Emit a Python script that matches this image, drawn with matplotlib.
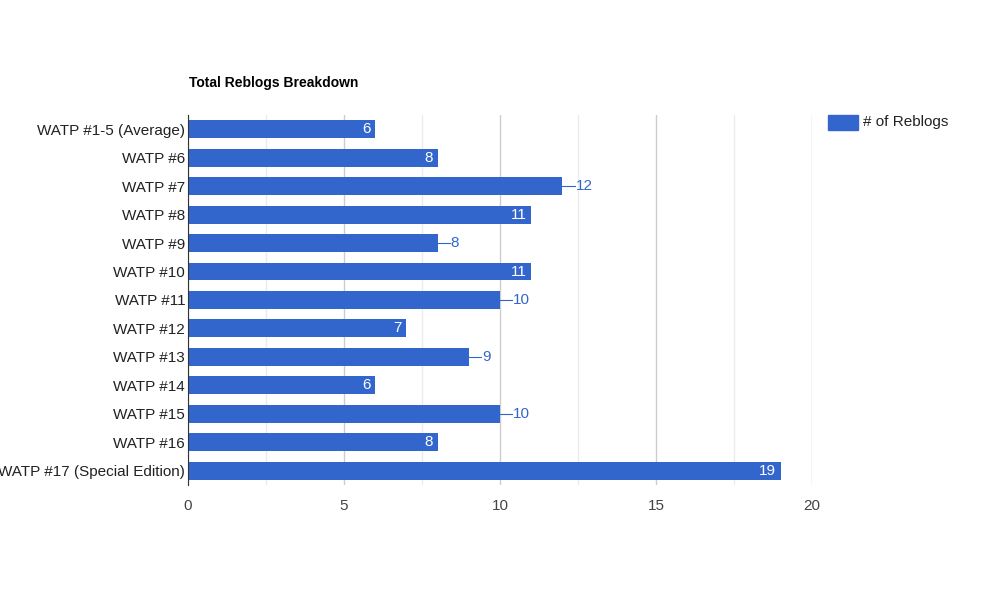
import matplotlib
matplotlib.use('Agg')
import matplotlib.pyplot as plt
from matplotlib.ticker import MultipleLocator

plt.rcParams['font.family'] = 'Liberation Sans'

categories = ['WATP #1-5 (Average)', 'WATP #6', 'WATP #7', 'WATP #8', 'WATP #9',
              'WATP #10', 'WATP #11', 'WATP #12', 'WATP #13', 'WATP #14',
              'WATP #15', 'WATP #16', 'WATP #17 (Special Edition)']
reblogs = [6, 8, 12, 11, 8, 11, 10, 7, 9, 6, 10, 8, 19]
# label drawn outside the bar with a leader line
outside = [False, False, True, False, True, False, True, False, True, False, True, False, False]

BLUE = '#3366cc'

fig = plt.figure(figsize=(10, 6), dpi=100)
ax = fig.add_axes([0.188, 0.1917, 0.624, 0.6167])

ypos = list(range(len(categories)))
ax.barh(ypos, reblogs, height=0.63, color=BLUE, zorder=3)
ax.set_ylim(len(categories) - 0.5, -0.5)
ax.set_xlim(0, 20)
ax.set_yticks(ypos)
ax.set_yticklabels(categories, fontsize=11, color='#222222')
ax.xaxis.set_major_locator(MultipleLocator(5))
ax.xaxis.set_minor_locator(MultipleLocator(2.5))
ax.tick_params(axis='both', which='both', length=0, labelsize=11, colors='#444444')
ax.tick_params(axis='y', colors='#222222', pad=2)
ax.tick_params(axis='x', pad=10)
ax.grid(axis='x', which='major', color='#cccccc', lw=1, zorder=0)
ax.grid(axis='x', which='minor', color='#ebebeb', lw=1, zorder=0)
for s in ['top', 'right', 'bottom']:
    ax.spines[s].set_visible(False)
ax.spines['left'].set_color('#333333')
ax.spines['left'].set_zorder(4)

for y, v, out in zip(ypos, reblogs, outside):
    if out:
        ax.plot([v, v + 0.4], [y, y], color=BLUE, lw=0.8, zorder=3)
        ax.text(v + 0.42, y, str(v), color=BLUE, fontsize=11, va='center', ha='left')
    else:
        ax.text(v - 0.15, y, str(v), color='white', fontsize=11, va='center', ha='right', zorder=4)

fig.text(0.189, 0.862, 'Total Reblogs Breakdown', fontsize=10, fontweight='bold', va='center')

fig.patches.append(plt.Rectangle((0.828, 0.783), 0.030, 0.025, color=BLUE,
                                 transform=fig.transFigure, figure=fig))
fig.text(0.863, 0.796, '# of Reblogs', fontsize=11, color='#222222', va='center')

fig.savefig('out.png')
